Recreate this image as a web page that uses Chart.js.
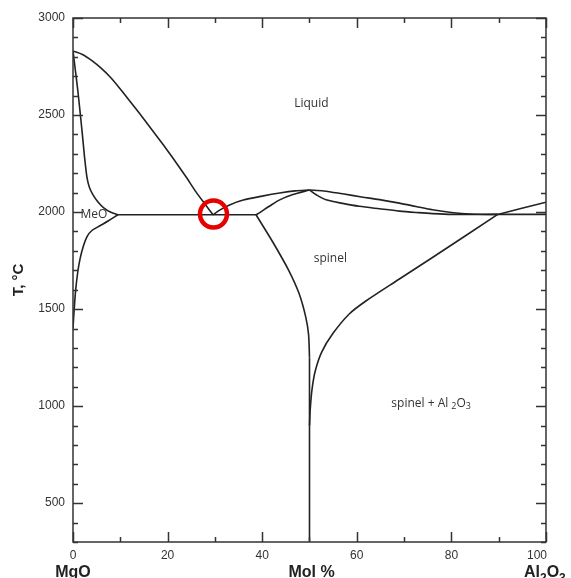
<!DOCTYPE html>
<html>
<head>
<meta charset="utf-8">
<script src="https://cdn.jsdelivr.net/npm/chart.js@4"></script>
<style>
  body { margin: 0; background: #fff; }
  canvas { display: block; }
</style>
</head>
<body>
<canvas id="phase" width="571" height="578"></canvas>
<script>
// MgO - Al2O3 phase diagram, composition in mol % Al2O3, temperature in °C
const xTicks = [0, 20, 40, 60, 80, 100];
const yTicks = [500, 1000, 1500, 2000, 2500, 3000];

const liquidusMgO = [[0, 2830], [2, 2812], [4, 2780], [6, 2740], [8, 2692], [10, 2634], [12, 2572], [14, 2510], [16, 2446], [18, 2382], [20, 2316], [22, 2248], [24, 2178], [26, 2104], [28, 2038], [29.6, 1986]];
const meoSolidus = [[0, 2830], [0.5, 2730], [1, 2630], [1.5, 2515], [2, 2395], [2.5, 2270], [3, 2172], [3.5, 2125], [4.2, 2090], [5.2, 2055], [6.5, 2022], [8, 1999], [9.5, 1986]];
const meoSolvus = [[9.5, 1986], [7.5, 1955], [5.6, 1928], [4, 1905], [3, 1875], [2.2, 1825], [1.5, 1760], [1, 1690], [0.55, 1595], [0.2, 1480], [0, 1400]];
const eutecticMgO = [[9.5, 1986], [38.7, 1986]];
const spinelLiquidusL = [[29.6, 1986], [31, 2010], [33.1, 2037], [36, 2062], [40, 2082], [43.7, 2098], [47, 2109], [50, 2114]];
const spinelSolidusL = [[38.7, 1986], [39.4, 1996], [41.5, 2030], [43.7, 2063], [46.5, 2090], [50, 2114]];
const spinelSolvusL = [[38.7, 1986], [42.2, 1847], [45.6, 1700], [47.8, 1580], [49.2, 1460], [49.8, 1370], [50, 1250]];
const stoichiometric = [[50, 300], [50, 1250]];
const spinelLiquidusR = [[50, 2114], [53, 2109], [57, 2094], [61, 2078], [64.8, 2064], [69, 2046], [72.5, 2029], [76, 2012], [80, 1998], [84, 1990], [89.8, 1988]];
const spinelSolidusR = [[50, 2114], [51.5, 2088], [53.5, 2063], [57, 2045], [60.5, 2030], [64.8, 2017], [69, 2005], [73, 1997], [76, 1992], [80, 1988], [89.8, 1988]];
const spinelSolvusR = [[89.8, 1988], [76, 1766], [69, 1655], [62, 1543], [58.4, 1475], [54.9, 1373], [52.6, 1280], [51.2, 1180], [50.5, 1080], [50.15, 980], [50, 900]];
const corundumLiquidus = [[89.8, 1988], [100, 2051]];
const eutecticAl2O3 = [[89.8, 1988], [100, 1988]];
const eutecticMark = [[29.7, 1990]];

// phase field names, anchored in data units
const fieldLabels = [
  { parts: [['Liquid', 0]], x: 50.4, y: 2560, align: 'center' },
  { parts: [['MeO', 0]], x: 1.6, y: 1986, align: 'left' },
  { parts: [['spinel', 0]], x: 54.4, y: 1761, align: 'center' },
  { parts: [['spinel + Al ', 0], ['2', 1], ['O', 0], ['3', 1]], x: 67.3, y: 1015, align: 'left' }
];

const toXY = pts => pts.map(p => ({ x: p[0], y: p[1] }));

function curve(pts) {
  return {
    data: toXY(pts),
    showLine: true,
    borderColor: '#222',
    borderWidth: 1.6,
    pointRadius: 0,
    tension: 0.3,
    fill: false
  };
}

// text with subscript pieces: parts = [[text, isSub], ...]
function drawRich(ctx, parts, x, y, size, weight, family, align) {
  const font = s => weight + ' ' + s + 'px ' + family;
  let total = 0;
  parts.forEach(p => {
    ctx.font = font(p[1] ? size * 0.75 : size);
    total += ctx.measureText(p[0]).width;
  });
  let cx = align === 'center' ? x - total / 2 : (align === 'right' ? x - total : x);
  ctx.textAlign = 'left';
  parts.forEach(p => {
    ctx.font = font(p[1] ? size * 0.75 : size);
    ctx.fillText(p[0], cx, p[1] ? y + size * 0.3 : y);
    cx += ctx.measureText(p[0]).width;
  });
}

const frame = {
  id: 'frame',
  afterDatasetsDraw(chart) {
    const { ctx, chartArea: a, scales: { x, y } } = chart;
    ctx.save();
    ctx.strokeStyle = '#333';
    ctx.lineWidth = 1.5;
    ctx.strokeRect(a.left, a.top, a.right - a.left, a.bottom - a.top);
    ctx.beginPath();
    // ticks point inward on all four sides
    for (let v = 0; v <= 100; v += 10) {
      const px = Math.round(x.getPixelForValue(v)) + 0.5;
      const len = xTicks.includes(v) ? 10 : 5;
      ctx.moveTo(px, a.bottom); ctx.lineTo(px, a.bottom - len);
      ctx.moveTo(px, a.top); ctx.lineTo(px, a.top + len);
    }
    for (let v = 300; v <= 3000; v += 100) {
      const py = Math.round(y.getPixelForValue(v)) + 0.5;
      const len = yTicks.includes(v) ? 10 : 5;
      ctx.moveTo(a.left, py); ctx.lineTo(a.left + len, py);
      ctx.moveTo(a.right, py); ctx.lineTo(a.right - len, py);
    }
    ctx.stroke();
    ctx.restore();
  },
  afterDraw(chart) {
    const { ctx, chartArea: a, scales: { x, y } } = chart;
    ctx.save();
    ctx.fillStyle = '#333';
    ctx.textBaseline = 'middle';
    fieldLabels.forEach(l => {
      drawRich(ctx, l.parts, x.getPixelForValue(l.x), y.getPixelForValue(l.y), 12, 'normal', '"Open Sans"', l.align);
    });
    // axis end members and composition label
    ctx.fillStyle = '#222';
    ctx.textBaseline = 'alphabetic';
    const base = a.bottom + 35;
    drawRich(ctx, [['MgO', 0]], x.getPixelForValue(0), base, 16, 'bold', '"Liberation Sans"', 'center');
    drawRich(ctx, [['Mol %', 0]], x.getPixelForValue(50) + 2, base, 16, 'bold', '"Liberation Sans"', 'center');
    drawRich(ctx, [['Al', 0], ['2', 1], ['O', 0], ['3', 1]], x.getPixelForValue(100) - 22, base, 16, 'bold', '"Liberation Sans"', 'left');
    ctx.restore();
  }
};

new Chart(document.getElementById('phase'), {
  type: 'scatter',
  data: {
    datasets: [
      {
        data: toXY(eutecticMark),
        pointRadius: 13.5,
        pointBorderWidth: 4.5,
        pointBorderColor: '#e60000',
        pointBackgroundColor: 'rgba(0,0,0,0)',
        showLine: false
      },
      curve(liquidusMgO),
      curve(meoSolidus),
      curve(meoSolvus),
      curve(eutecticMgO),
      curve(spinelLiquidusL),
      curve(spinelSolidusL),
      curve(spinelSolvusL),
      curve(stoichiometric),
      curve(spinelLiquidusR),
      curve(spinelSolidusR),
      curve(spinelSolvusR),
      curve(corundumLiquidus),
      curve(eutecticAl2O3)
    ]
  },
  options: {
    responsive: false,
    animation: false,
    devicePixelRatio: 1,
    layout: { padding: { top: 15, right: 24, left: 0, bottom: 0 } },
    plugins: { legend: { display: false }, tooltip: { enabled: false } },
    scales: {
      x: {
        type: 'linear',
        min: 0,
        max: 100,
        afterBuildTicks: s => { s.ticks = xTicks.map(v => ({ value: v })); },
        afterFit: s => { s.height = 36; },
        grid: { display: false, drawTicks: false },
        border: { display: false },
        ticks: {
          padding: 6,
          maxRotation: 0,
          color: '#333',
          font: { family: '"Liberation Sans"', size: 12 },
          callback: v => v === 100 ? '100\u2002\u2002\u2002' : String(v)
        }
      },
      y: {
        type: 'linear',
        min: 300,
        max: 3000,
        afterBuildTicks: s => { s.ticks = yTicks.map(v => ({ value: v })); },
        afterFit: s => { s.width = 73; },
        grid: { display: false, drawTicks: false },
        border: { display: false },
        ticks: {
          padding: 8,
          color: '#333',
          font: { family: '"Liberation Sans"', size: 12 },
          callback: v => String(v)
        },
        title: {
          display: true,
          text: 'T, °C',
          color: '#222',
          padding: { top: 10, bottom: 0 },
          font: { family: '"Liberation Sans"', size: 15, weight: 'bold' }
        }
      }
    }
  },
  plugins: [frame]
});
</script>
</body>
</html>
